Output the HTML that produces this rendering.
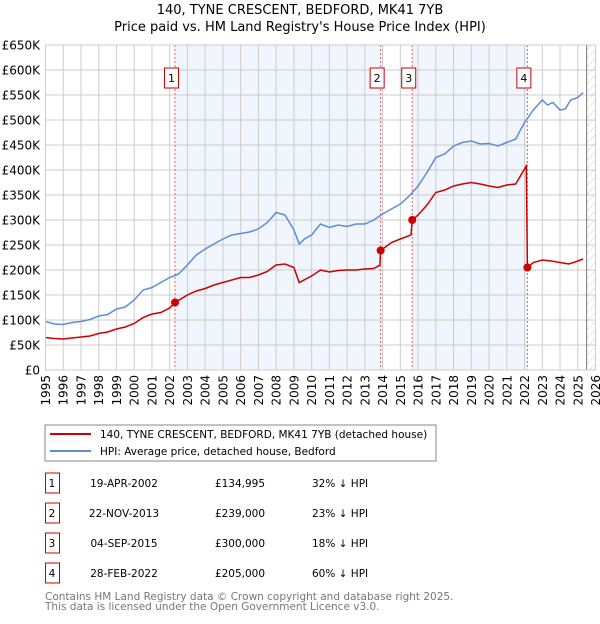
<!DOCTYPE html>
<html><head><meta charset="utf-8"><style>
body{margin:0;background:#fff;font-family:"DejaVu Sans","Liberation Sans",sans-serif;}
svg text{font-family:"DejaVu Sans","Liberation Sans",sans-serif;}
</style></head><body>
<svg id="c" width="600" height="620" xmlns="http://www.w3.org/2000/svg">
<defs><pattern id="hatch" width="6" height="6" patternUnits="userSpaceOnUse" patternTransform="rotate(45)"><line x1="0" y1="0" x2="0" y2="6" stroke="#ccc" stroke-width="1"/></pattern></defs>
<text x="300" y="14" text-anchor="middle" font-size="13">140, TYNE CRESCENT, BEDFORD, MK41 7YB</text>
<text x="300" y="31" text-anchor="middle" font-size="13">Price paid vs. HM Land Registry's House Price Index (HPI)</text>
<g id="plot"></g>
<rect x="45" y="425" width="391" height="36" fill="#fff" stroke="#888"/>
<line x1="50" y1="434" x2="91" y2="434" stroke="#cc0000" stroke-width="2"/>
<text x="100" y="438" font-size="10.5">140, TYNE CRESCENT, BEDFORD, MK41 7YB (detached house)</text>
<line x1="50" y1="451" x2="91" y2="451" stroke="#5b8ed6" stroke-width="2"/>
<text x="100" y="455" font-size="10.5">HPI: Average price, detached house, Bedford</text>
<g id="tbl"></g>
<text x="45" y="600" font-size="10.5" fill="#777">Contains HM Land Registry data © Crown copyright and database right 2025.</text>
<text x="45" y="610" font-size="10.5" fill="#777">This data is licensed under the Open Government Licence v3.0.</text>
</svg>
<script>
const hpiYears=[1995,1995.5,1996,1996.5,1997,1997.5,1998,1998.5,1999,1999.5,2000,2000.5,2001,2001.5,2002,2002.5,2003,2003.5,2004,2004.5,2005,2005.5,2006,2006.5,2007,2007.5,2008,2008.5,2009,2009.3,2009.6,2010,2010.5,2011,2011.5,2012,2012.5,2013,2013.5,2014,2014.5,2015,2015.5,2016,2016.5,2017,2017.5,2018,2018.5,2019,2019.5,2020,2020.5,2021,2021.5,2022,2022.5,2023,2023.3,2023.6,2024,2024.3,2024.6,2025,2025.3];
const hpiValues=[97,92,91,95,97,101,108,111,122,126,140,160,165,175,185,192,210,230,242,252,262,270,273,276,282,295,315,310,280,252,262,270,292,285,290,287,292,292,300,312,322,332,348,368,395,425,432,448,455,458,452,453,448,455,462,495,520,540,530,535,520,522,540,545,555];
const salesYears=[1995,1995.5,1996,1996.5,1997,1997.5,1998,1998.5,1999,1999.5,2000,2000.5,2001,2001.5,2002,2002.3,2003,2003.5,2004,2004.5,2005,2005.5,2006,2006.5,2007,2007.5,2008,2008.5,2009,2009.3,2010,2010.5,2011,2011.5,2012,2012.5,2013,2013.5,2013.85,2013.89,2014.5,2015,2015.6,2015.67,2016,2016.5,2017,2017.5,2018,2018.5,2019,2019.5,2020,2020.5,2021,2021.5,2022.0,2022.1,2022.16,2022.5,2023,2023.5,2024,2024.5,2025,2025.3];
const salesValues=[65,63,62,64,66,68,73,76,82,86,93,105,112,115,124,135,150,158,163,170,175,180,185,185,190,197,210,212,205,175,188,200,196,199,200,200,202,203,210,239,255,262,270,300,310,330,355,360,368,372,375,372,368,365,370,372,402,408,205,215,220,218,215,212,218,222];
const saleLabels=['1','2','3','4'];
const saleDates=[2002.30,2013.89,2015.67,2022.16];
const salePrices=[134995,239000,300000,205000];
const saleDateText=['19-APR-2002','22-NOV-2013','04-SEP-2015','28-FEB-2022'];
const salePriceText=['£134,995','£239,000','£300,000','£205,000'];
const salePctText=['32% ↓ HPI','23% ↓ HPI','18% ↓ HPI','60% ↓ HPI'];
const yTicks=[0,50,100,150,200,250,300,350,400,450,500,550,600,650];
const yTickLabels=['£0','£50K','£100K','£150K','£200K','£250K','£300K','£350K','£400K','£450K','£500K','£550K','£600K','£650K'];
const xTicks=[1995,1996,1997,1998,1999,2000,2001,2002,2003,2004,2005,2006,2007,2008,2009,2010,2011,2012,2013,2014,2015,2016,2017,2018,2019,2020,2021,2022,2023,2024,2025,2026];
const NS='http://www.w3.org/2000/svg';
const X0=45.5,X1=595.5,Y0=370,Y1=45;
const xs=y=>X0+(y-1995)/(31)*(X1-X0);
const ys=v=>Y0-v/650*(Y0-Y1);
const plot=document.getElementById('plot');
function mk(tag,at,parent){const e=document.createElementNS(NS,tag);for(const k in at)e.setAttribute(k,at[k]);(parent||plot).appendChild(e);return e;}
for(const [a,b] of [[0,1],[2,3]]){
 const r=mk('rect',{x:xs(saleDates[a]),y:Y1,width:xs(saleDates[b])-xs(saleDates[a]),height:Y0-Y1,fill:'#eef3fc',opacity:0.8});
 
 
}
const h=mk('rect',{x:xs(2025.5),y:Y1,width:X1-xs(2025.5),height:Y0-Y1,fill:'url(#hatch)'});


xTicks.forEach((t,i)=>{
 const l=mk('line',{x1:xs(t),x2:xs(t),y1:Y1,y2:Y0,stroke:'#ccc','stroke-width':1});
 
 
 const x=xs(t)+4.5;
 const tx=mk('text',{x:x,y:375,'text-anchor':'end','font-size':12,transform:'rotate(-90 '+x+' 375)'});
 tx.textContent=t;
 
 
});
yTicks.forEach((t,i)=>{
 const l=mk('line',{x1:X0,x2:X1,y1:ys(t),y2:ys(t),stroke:'#ccc','stroke-width':1});
 
 
 const tx=mk('text',{x:40,y:ys(t)+4.5,'text-anchor':'end','font-size':12});
 tx.textContent=yTickLabels[i];
 
 
});
const vl=mk('line',{x1:xs(2025.5),x2:xs(2025.5),y1:Y1,y2:Y0,stroke:'#777','stroke-width':1});


saleDates.forEach((d,i)=>{
 const l=mk('line',{x1:xs(d),x2:xs(d),y1:Y1,y2:Y0,stroke:'#e06060','stroke-width':1,'stroke-dasharray':'2,2'});
 
 
 const bx=mk('rect',{x:xs(d)-10.5,y:68,width:14,height:20,fill:'#fff',stroke:'#cc0000'});
 
 
 const t=mk('text',{x:xs(d)-3.5,y:82,'text-anchor':'middle','font-size':11});
 t.textContent=saleLabels[i];
 
 
});
const pts=(xa,va)=>xa.map((x,i)=>xs(x).toFixed(1)+','+ys(va[i]).toFixed(1)).join(' ');
const hl=mk('polyline',{points:pts(hpiYears,hpiValues),fill:'none',stroke:'#5b8ed6','stroke-width':1.5});


const pl=mk('polyline',{points:pts(salesYears,salesValues),fill:'none',stroke:'#cc0000','stroke-width':1.5});


saleDates.forEach((d,i)=>{
 const c=mk('circle',{cx:xs(d),cy:ys(salePrices[i]/1000),r:4,fill:'#cc0000'});
 
 
});
const fr=mk('rect',{x:X0,y:Y1,width:X1-X0,height:Y0-Y1,fill:'none',stroke:'#ccc'});


const tbl=document.getElementById('tbl');
saleLabels.forEach((s,i)=>{
 const cy=483+i*30;
 const b=mk('rect',{x:45.5,y:cy-10,width:14,height:20,fill:'#fff',stroke:'#cc0000'},tbl);
 
 
 const cells=[[52,s,'middle'],[124,saleDateText[i],'middle'],[240,salePriceText[i],'middle'],[312,salePctText[i],'start']];
 cells.forEach(([x,txt,a])=>{
  const t=mk('text',{x:x,y:cy+4,'text-anchor':a,'font-size':10.5},tbl);
  t.textContent=txt;
  
  
 });
});
</script>
</body></html>
